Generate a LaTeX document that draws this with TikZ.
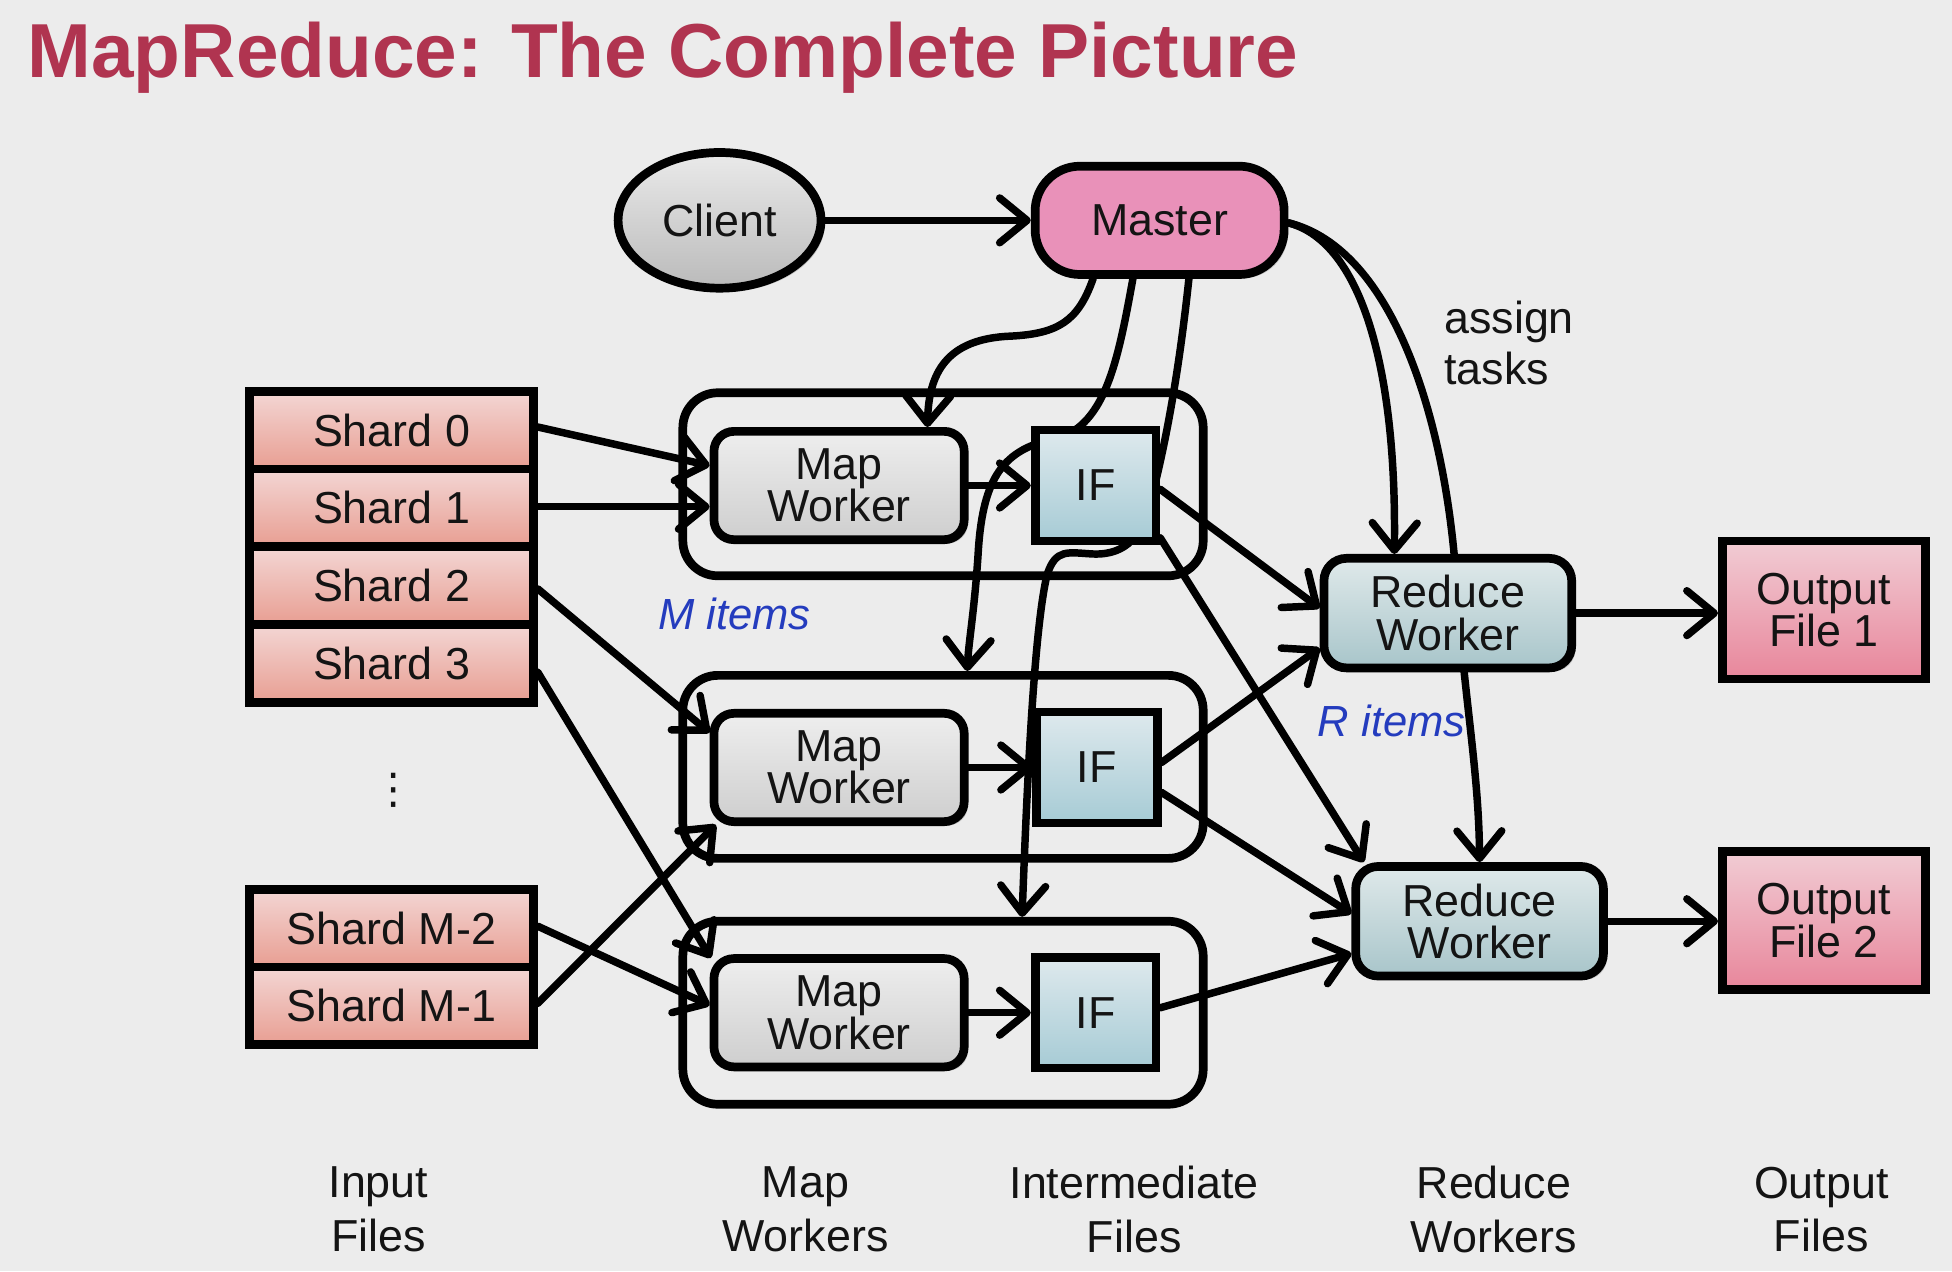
\documentclass[tikz,border=0pt]{standalone}
\usepackage{fontspec}
\setmainfont{Liberation Sans}
\newfontfamily\dvfont{DejaVu Sans}
\usetikzlibrary{arrows.meta,shapes.geometric,calc,shadows}
\pgfdeclarelayer{bg}
\pgfsetlayers{bg,main}
\definecolor{bgc}{RGB}{236,236,236}
\definecolor{titlec}{RGB}{176,52,80}
\definecolor{itemc}{RGB}{36,60,190}
\definecolor{txtc}{RGB}{20,20,20}
\definecolor{masterc}{RGB}{233,145,185}
\begin{document}
\begin{tikzpicture}[x=1pt,y=-1pt,
  >={Straight Barb[length=22pt,width=36pt,round]},
  conn/.style={->,line width=6pt,line cap=round},
  shad/.style={drop shadow={shadow xshift=3pt,shadow yshift=-3pt,opacity=0.18,fill=black}},
  box/.style={draw=black,line width=7pt,inner sep=0pt,align=center,
    font=\fontsize{36}{34}\selectfont,text=txtc,shad},
  clientbox/.style={box,ellipse,minimum width=163pt,minimum height=109pt,
    top color={rgb,255:red,234;green,234;blue,234},bottom color={rgb,255:red,186;green,186;blue,186}},
  masterbox/.style={box,rounded corners=36pt,minimum width=200pt,minimum height=87pt,fill=masterc},
  shardbox/.style={box,minimum width=228pt,minimum height=62.5pt,
    top color={rgb,255:red,243;green,214;blue,212},bottom color={rgb,255:red,232;green,158;blue,146}},
  groupbox/.style={draw=black,line width=7pt,rounded corners=28pt,minimum width=418pt,minimum height=147pt,inner sep=0pt},
  mapbox/.style={box,rounded corners=16pt,minimum width=201pt,minimum height=87pt,
    top color={rgb,255:red,238;green,238;blue,238},bottom color={rgb,255:red,206;green,206;blue,206}},
  ifbox/.style={box,minimum width=97pt,minimum height=89pt,
    top color={rgb,255:red,222;green,233;blue,237},bottom color={rgb,255:red,166;green,203;blue,213}},
  redbox/.style={box,rounded corners=18pt,minimum width=199pt,minimum height=88pt,
    top color={rgb,255:red,223;green,233;blue,234},bottom color={rgb,255:red,168;green,197;blue,202}},
  outbox/.style={box,minimum width=163pt,minimum height=111pt,
    top color={rgb,255:red,241;green,204;blue,212},bottom color={rgb,255:red,232;green,134;blue,155}},
  itemlbl/.style={inner sep=0pt,font=\fontsize{35}{40}\selectfont\itshape,text=itemc},
  plainlbl/.style={inner sep=0pt,font=\fontsize{36}{42}\selectfont,text=txtc},
  axislbl/.style={inner sep=0pt,align=center,font=\fontsize{36}{43}\selectfont,text=txtc}
]
\useasboundingbox (0,0) rectangle (1568,1021);

% title
\node[anchor=base west,inner sep=0pt,font=\fontsize{61.5}{70}\selectfont\bfseries,text=titlec] (title) at (22,62) {MapReduce: The Complete Picture};

% top
\node[clientbox] (client) at (578,177) {Client};
\node[masterbox] (master) at (931.5,177) {Master};

% shards
\node[shardbox] (s0) at (314.5,345.5) {Shard 0};
\node[shardbox] (s1) at (314.5,408) {Shard 1};
\node[shardbox] (s2) at (314.5,470.5) {Shard 2};
\node[shardbox] (s3) at (314.5,533) {Shard 3};
\node[inner sep=0pt,font=\dvfont\fontsize{34}{34}\selectfont,text=txtc] (dots) at (316,635) {⋮};
\node[shardbox] (sm2) at (314.5,745.5) {Shard M-2};
\node[shardbox] (sm1) at (314.5,808) {Shard M-1};

% map groups
\node[groupbox] (g1) at (757.5,389) {};
\node[groupbox] (g2) at (757.5,616) {};
\node[groupbox] (g3) at (757.5,813.5) {};
\node[mapbox] (mw1) at (674,390) {Map\\Worker};
\node[mapbox] (mw2) at (674,616.5) {Map\\Worker};
\node[mapbox] (mw3) at (674,813.5) {Map\\Worker};
\node[ifbox] (if1) at (880,390) {IF};
\node[ifbox] (if2) at (881,616.5) {IF};
\node[ifbox] (if3) at (880,813.5) {IF};

% reduce and output
\node[redbox] (rw1) at (1163,492.5) {Reduce\\Worker};
\node[redbox] (rw2) at (1188.5,740) {Reduce\\Worker};
\node[outbox] (out1) at (1465,490) {Output\\File 1};
\node[outbox] (out2) at (1465,739.5) {Output\\File 2};

% labels
\node[itemlbl] (mitems) at (590,493) {M items};
\node[itemlbl] (ritems) at (1118,579) {R items};
\node[plainlbl,anchor=base west] (assign) at (1160,268) {assign};
\node[plainlbl,anchor=base west] (tasks) at (1160,309) {tasks};
\node[axislbl] (linput) at (304,971.5) {Input\\Files};
\node[axislbl] (lmap) at (647,971.5) {Map\\Workers};
\node[axislbl] (linter) at (911,971.5) {Intermediate\\Files};
\node[axislbl] (lred) at (1200,971.5) {Reduce\\Workers};
\node[axislbl] (lout) at (1463,971.5) {Output\\Files};

\begin{pgfonlayer}{bg}
\fill[bgc] (0,0) rectangle (1568,1021);
% client to master
\draw[conn] (client.east) -- (master.west);
% shards to map workers
\draw[conn] (s0.east |- 0,343) -- ($(mw1.west)+(0,-16)$);
\draw[conn] (s1.east |- 0,407) -- ($(mw1.west)+(0,17)$);
\draw[conn] (s2.east |- 0,473) -- ($(mw2.west)+(0,-28)$);
\draw[conn] (s3.east |- 0,540) -- ($(mw3.north west)+(1,3)$);
\draw[conn] (sm2.east |- 0,744) -- ($(mw3.west)+(0,-6)$);
\draw[conn] (sm1.east |- 0,806) -- ($(mw2.south west)+(5,-1)$);
% map worker to IF
\draw[conn] (mw1.east) -- (if1.west);
\draw[conn] (mw2.east) -- (if2.west);
\draw[conn] (mw3.east) -- (if3.west);
% master to map workers
\draw[conn] ($(master.south)+(-53.5,0)$) .. controls (866,258) and (850,268) .. (812,270)
   .. controls (760,272) and (746,300) .. ($(mw1.north)+(71,0)$);
\draw[conn] ($(master.south)+(-21.5,0)$) .. controls (898,290) and (888,340) .. (850,352)
   .. controls (805,360) and (790,385) .. (786,440)
   .. controls (783,490) and (778,515) .. ($(g2.north)+(19.5,0)$);
\draw[conn] ($(master.south)+(23.5,0)$) .. controls (948,290) and (938,350) .. (925,400)
   .. controls (918,430) and (905,446) .. (878,445)
   .. controls (858,444) and (848,440) .. (841,462)
   .. controls (832,500) and (826,600) .. ($(g3.north)+(63.5,0)$);
% master to reduce workers
\draw[conn] ($(master.east)+(0,2)$) .. controls (1095,195) and (1122,300) .. ($(rw1.north)+(-43,0)$);
\draw[conn] ($(master.east)+(0,2)$) .. controls (1120,200) and (1162,340) .. (1170,470)
   .. controls (1176,560) and (1188,620) .. (rw2.north);
% IF to reduce workers
\draw[conn] ($(if1.east)+(0,3)$) -- ($(rw1.west)+(0,-4)$);
\draw[conn] ($(if1.south east)+(0,-6)$) -- ($(rw2.north west)+(10,0)$);
\draw[conn] ($(if2.east)+(0,-4)$) -- ($(rw1.west)+(0,28)$);
\draw[conn] ($(if2.east)+(0,20)$) -- ($(rw2.west)+(0,-6)$);
\draw[conn] ($(if3.east)+(0,-4)$) -- ($(rw2.west)+(0,26)$);
% reduce to output
\draw[conn] (rw1.east) -- (rw1.east -| out1.west);
\draw[conn] (rw2.east) -- (rw2.east -| out2.west);
\end{pgfonlayer}
\end{tikzpicture}
\end{document}
